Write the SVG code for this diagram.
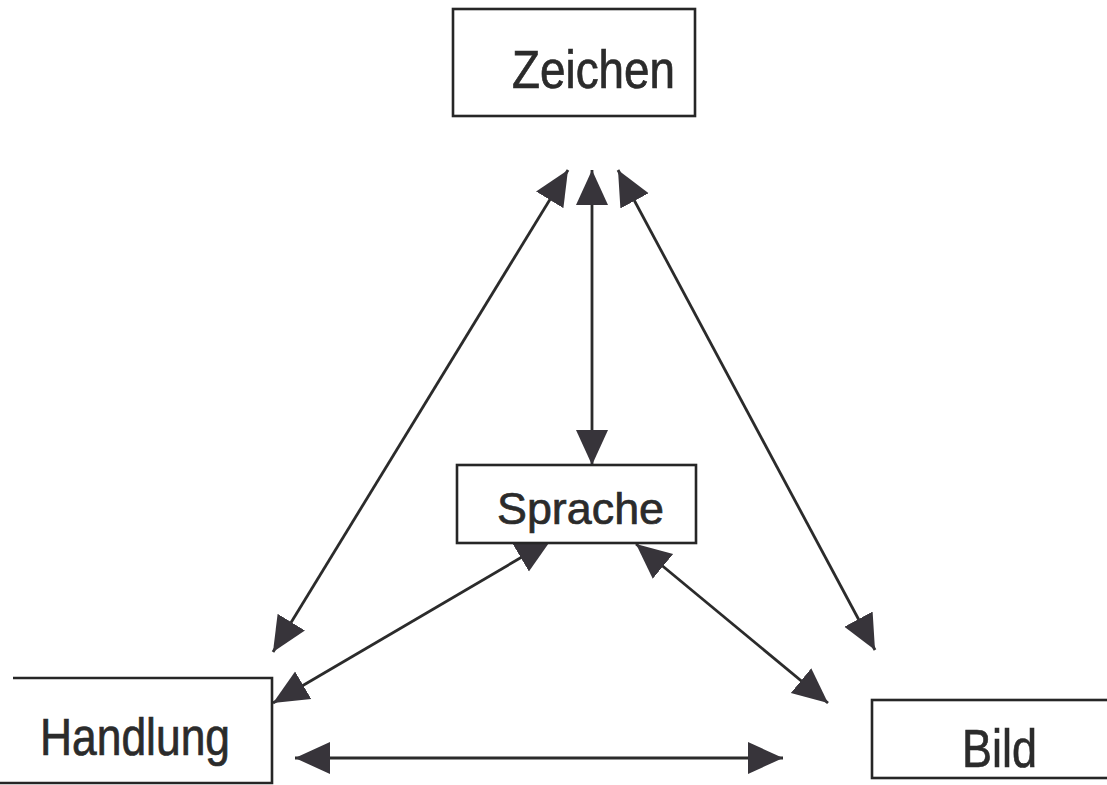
<svg xmlns="http://www.w3.org/2000/svg" width="1107" height="785" viewBox="0 0 1107 785">
  <style>
    .box { fill: #ffffff; stroke: #262626; stroke-width: 2.6; }
    .label { font-family: "Liberation Sans", Arial, sans-serif; fill: #2b2b2b; stroke: #2b2b2b; stroke-width: 0.7; }
    .link { stroke: #2b2b2b; stroke-width: 2.8; fill: none; marker-start: url(#head); marker-end: url(#head); }
  </style>
  <defs>
    <marker id="head" markerUnits="userSpaceOnUse" markerWidth="36" markerHeight="34" viewBox="0 0 36 34" refX="35" refY="17" orient="auto-start-reverse">
      <path d="M0,1 L35,17 L0,33 Z" fill="#37343a"/>
    </marker>
  </defs>
  <rect width="1107" height="785" fill="#ffffff"/>

  <!-- connectors (drawn first so the boxes cover the arrow tips) -->
  <g id="connectors">
    <line class="link" x1="568" y1="170" x2="273" y2="652"/>
    <line class="link" x1="592" y1="170" x2="592" y2="465"/>
    <line class="link" x1="618" y1="170" x2="875" y2="650"/>
    <line class="link" x1="551" y1="540" x2="273" y2="703"/>
    <line class="link" x1="636" y1="544" x2="828" y2="703"/>
    <line class="link" x1="295" y1="758" x2="783" y2="758"/>
  </g>

  <g id="zeichen">
    <rect class="box" x="453" y="9" width="242" height="107"/>
    <text class="label" x="512" y="88" font-size="53" textLength="163" lengthAdjust="spacingAndGlyphs">Zeichen</text>
  </g>

  <g id="sprache">
    <rect class="box" x="457" y="465" width="239" height="78"/>
    <text class="label" x="497" y="524" font-size="45" textLength="167" lengthAdjust="spacingAndGlyphs">Sprache</text>
  </g>

  <g id="handlung">
    <path class="box" d="M13,678 H272 V783 H-2"/>
    <text class="label" x="40" y="755" font-size="51" textLength="190" lengthAdjust="spacingAndGlyphs">Handlung</text>
  </g>

  <g id="bild">
    <rect class="box" x="872" y="700" width="240" height="78"/>
    <text class="label" x="962" y="767" font-size="54" textLength="75" lengthAdjust="spacingAndGlyphs">Bild</text>
  </g>
</svg>
